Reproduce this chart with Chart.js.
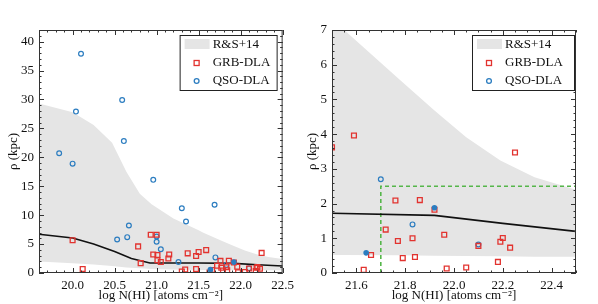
<!DOCTYPE html>
<html>
<head>
<meta charset="utf-8">
<script src="https://cdn.jsdelivr.net/npm/chart.js@4"></script>
<style>
  body { margin: 0; background: #fff; }
  #wrap { position: relative; width: 598px; height: 304px; }
  canvas { position: absolute; top: 0; }
</style>
</head>
<body>
<div id="wrap">
  <canvas id="leftChart" width="299" height="304" style="left:0"></canvas>
  <canvas id="rightChart" width="299" height="304" style="left:299px"></canvas>
</div>
<script>
// GRB-DLA host impact parameters
const grbLogN = [20.00, 20.12, 20.78, 20.81, 20.93, 21.00, 20.96, 21.01, 21.01, 21.05, 21.14, 21.15,
    21.30, 21.34, 21.37, 21.47, 21.47,
    21.50, 21.59, 21.63, 21.66, 21.72, 21.76, 21.77, 21.79, 21.83, 21.84, 21.86, 21.92, 21.96,
    21.97, 22.05, 22.10, 22.18, 22.19, 22.20, 22.23, 22.25];
const grbRho = [5.65, 0.7, 4.6, 1.7, 6.6, 6.6, 3.2, 3.1, 2.2, 1.9, 2.5, 3.2,
    0.25, 0.6, 3.4, 2.95, 0.7,
    3.62, 3.96, 0.09, 0.52, 1.25, 2.09, 0.92, 0.43, 1.0, 0.46, 2.1, 1.82, 1.1,
    0.13, 0.16, 0.78, 0.32, 0.9, 1.01, 0.73, 3.47];

// QSO-DLA (open)
const qsoLogN = [20.10, 20.04, 19.84, 20.00, 20.59, 20.61, 20.96, 21.30, 21.35, 21.69, 20.67, 20.53,
    20.65, 21.00, 21.00, 21.05, 21.26, 21.70, 21.83, 22.10];
const qsoRho = [37.9, 27.9, 20.7, 18.9, 29.9, 22.8, 16.1, 11.2, 8.9, 11.8, 8.2, 5.8,
    6.2, 6.3, 5.4, 4.1, 1.9, 2.7, 1.4, 0.82];

// QSO-DLA (filled)
const qsoFilledLogN = [21.64, 21.92];
const qsoFilledRho = [0.58, 1.88];

// R&S+14 band and median
const bandLogN = [19.6, 20.0, 20.25, 20.47, 20.64, 20.8, 20.94, 21.2, 21.5, 21.55, 21.78, 21.92, 22.05, 22.19, 22.33, 22.5];
const bandUpper = [29.3, 27.8, 25.6, 22.5, 17.5, 13.7, 11.9, 9.4, 7.4, 7.0, 5.55, 4.68, 3.91, 3.24, 2.76, 2.40];
const bandLower = [2.0, 1.7, 1.45, 1.2, 0.95, 0.8, 0.7, 0.6, 0.52, 0.52, 0.51, 0.5, 0.49, 0.48, 0.47, 0.47];
const medianLogN = [19.6, 20.0, 20.25, 20.5, 20.7, 20.92, 21.5, 21.92, 22.2, 22.5];
const medianRho = [6.7, 6.05, 5.0, 3.7, 2.5, 1.72, 1.72, 1.66, 1.43, 1.2];

// dashed selection box (right panel)
const boxLogN = [21.7, 21.7, 22.5];
const boxRho = [0, 2.5, 2.5];

const leftXTicks = [20.0, 20.5, 21.0, 21.5, 22.0, 22.5];
const leftYTicks = [0, 5, 10, 15, 20, 25, 30, 35, 40];
const rightXTicks = [21.6, 21.8, 22.0, 22.2, 22.4];
const rightYTicks = [0, 1, 2, 3, 4, 5, 6, 7];

const RED = '#e2332f';
const BLUE = '#2c7dc0';
const BAND = '#e5e5e5';
const GREEN = '#55b64a';

Chart.defaults.font.family = '"Liberation Serif", "DejaVu Serif", serif';
Chart.defaults.font.size = 13;
Chart.defaults.color = '#111';

function pts(xs, ys) {
    return xs.map((x, i) => ({ x: x, y: ys[i] }));
}

// frame, inward ticks and the boxed legend, matplotlib style
const framePlugin = {
    id: 'frame',
    afterDraw(chart, args, opts) {
        const ctx = chart.ctx;
        const a = chart.chartArea;
        const x = chart.scales.x, y = chart.scales.y;
        ctx.save();
        ctx.strokeStyle = '#333';
        ctx.lineWidth = 1;
        ctx.strokeRect(a.left + 0.5, a.top + 0.5, a.width - 1, a.height - 1);

        function seg(x1, y1, x2, y2) {
            ctx.beginPath(); ctx.moveTo(x1, y1); ctx.lineTo(x2, y2); ctx.stroke();
        }
        function ticksX(step, len) {
            for (let v = Math.ceil(x.min / step - 1e-6) * step; v <= x.max + 1e-6; v += step) {
                const p = Math.round(x.getPixelForValue(v)) + 0.5;
                seg(p, a.bottom, p, a.bottom - len);
                seg(p, a.top, p, a.top + len);
            }
        }
        function ticksY(step, len) {
            for (let v = Math.ceil(y.min / step - 1e-6) * step; v <= y.max + 1e-6; v += step) {
                const p = Math.round(y.getPixelForValue(v)) + 0.5;
                seg(a.left, p, a.left + len, p);
                seg(a.right, p, a.right - len, p);
            }
        }
        ticksX(opts.xMinor, 2.5);
        ticksY(opts.yMinor, 2.5);
        ticksX(opts.xMajor, 5);
        ticksY(opts.yMajor, 5);

        // legend box
        const w = opts.legendWidth, h = 56;
        const bx = a.right - opts.legendGap - w, by = a.top + 5;
        ctx.fillStyle = '#fff';
        ctx.fillRect(bx, by, w, h);
        ctx.strokeStyle = '#222';
        ctx.strokeRect(bx + 0.5, by + 0.5, w - 1, h - 1);

        ctx.fillStyle = BAND;
        ctx.fillRect(bx + 5, by + 4, 25, 10);

        ctx.lineWidth = 1.3;
        ctx.strokeStyle = RED;
        ctx.strokeRect(bx + 14.5, by + 25.5, 5, 5);

        ctx.strokeStyle = BLUE;
        ctx.beginPath();
        ctx.arc(bx + 17, by + 46, 2.4, 0, Math.PI * 2);
        ctx.stroke();

        ctx.fillStyle = '#111';
        ctx.font = '13px "Liberation Serif", serif';
        ctx.textBaseline = 'middle';
        ctx.fillText('R&S+14', bx + 33, by + 10);
        ctx.fillText('GRB-DLA', bx + 33, by + 28);
        ctx.fillText('QSO-DLA', bx + 33, by + 46);
        ctx.restore();
    }
};

function makeChart(id, cfg) {
    const datasets = [
        {
            label: 'QSO-DLA filled', data: pts(qsoFilledLogN, qsoFilledRho),
            pointStyle: 'circle', pointRadius: 2.8, borderWidth: 0,
            backgroundColor: BLUE, borderColor: BLUE
        },
        {
            label: 'GRB-DLA', data: pts(grbLogN, grbRho),
            pointStyle: 'rect', pointRadius: 3.4, borderWidth: 1.3,
            borderColor: RED, backgroundColor: 'rgba(0,0,0,0)'
        },
        {
            label: 'QSO-DLA', data: pts(qsoLogN, qsoRho),
            pointStyle: 'circle', pointRadius: 2.4, borderWidth: 1.2,
            borderColor: BLUE, backgroundColor: 'rgba(0,0,0,0)'
        },
        {
            type: 'line', label: 'median', data: pts(medianLogN, medianRho),
            borderColor: '#111', borderWidth: 1.6, pointRadius: 0, tension: 0
        }
    ];
    if (cfg.showBox) {
        datasets.push({
            type: 'line', label: 'box', data: pts(boxLogN, boxRho),
            borderColor: GREEN, borderWidth: 1.6, borderDash: [4, 3], pointRadius: 0, tension: 0
        });
    }
    datasets.push({
        type: 'line', label: 'R&S+14', data: pts(bandLogN, bandUpper),
        borderWidth: 0, pointRadius: 0, backgroundColor: BAND, fill: '+1', tension: 0
    });
    datasets.push({
        type: 'line', label: 'lower', data: pts(bandLogN, bandLower),
        borderWidth: 0, pointRadius: 0, fill: false, tension: 0
    });

    return new Chart(document.getElementById(id), {
        type: 'scatter',
        data: { datasets: datasets },
        options: {
            responsive: false,
            animation: false,
            layout: { padding: { top: 30, right: cfg.padRight, left: 0, bottom: 0 } },
            plugins: {
                legend: { display: false },
                tooltip: { enabled: false },
                frame: cfg.frame
            },
            scales: {
                x: {
                    type: 'linear', min: cfg.xMin, max: cfg.xMax,
                    grid: { display: false, drawTicks: false },
                    border: { display: false },
                    afterBuildTicks: s => { s.ticks = cfg.xTicks.map(v => ({ value: v })); },
                    afterFit: s => { s.height = 31; },
                    ticks: { padding: 5, callback: v => v.toFixed(1), maxRotation: 0, autoSkip: false },
                    title: { display: true, text: 'log N(HI) [atoms cm\u207B\u00B2]', padding: { top: 0, bottom: 1 } }
                },
                y: {
                    type: 'linear', min: 0, max: cfg.yMax,
                    grid: { display: false, drawTicks: false },
                    border: { display: false },
                    afterBuildTicks: s => { s.ticks = cfg.yTicks.map(v => ({ value: v })); },
                    afterFit: s => { s.width = cfg.yWidth; },
                    ticks: { padding: 5, autoSkip: false },
                    title: { display: true, text: '\u03C1 (kpc)', padding: { top: 6, bottom: 0 } }
                }
            }
        },
        plugins: [framePlugin]
    });
}

makeChart('leftChart', {
    xMin: 19.6, xMax: 22.5, yMax: 42,
    xTicks: leftXTicks, yTicks: leftYTicks,
    yWidth: 39, padRight: 16, showBox: false,
    frame: { xMajor: 0.5, xMinor: 0.1, yMajor: 5, yMinor: 1, legendWidth: 98, legendGap: 5 }
});

makeChart('rightChart', {
    xMin: 21.5, xMax: 22.5, yMax: 7,
    xTicks: rightXTicks, yTicks: rightYTicks,
    yWidth: 33, padRight: 22, showBox: true,
    frame: { xMajor: 0.2, xMinor: 0.05, yMajor: 1, yMinor: 0.2, legendWidth: 103, legendGap: 1 }
});
</script>
</body>
</html>
